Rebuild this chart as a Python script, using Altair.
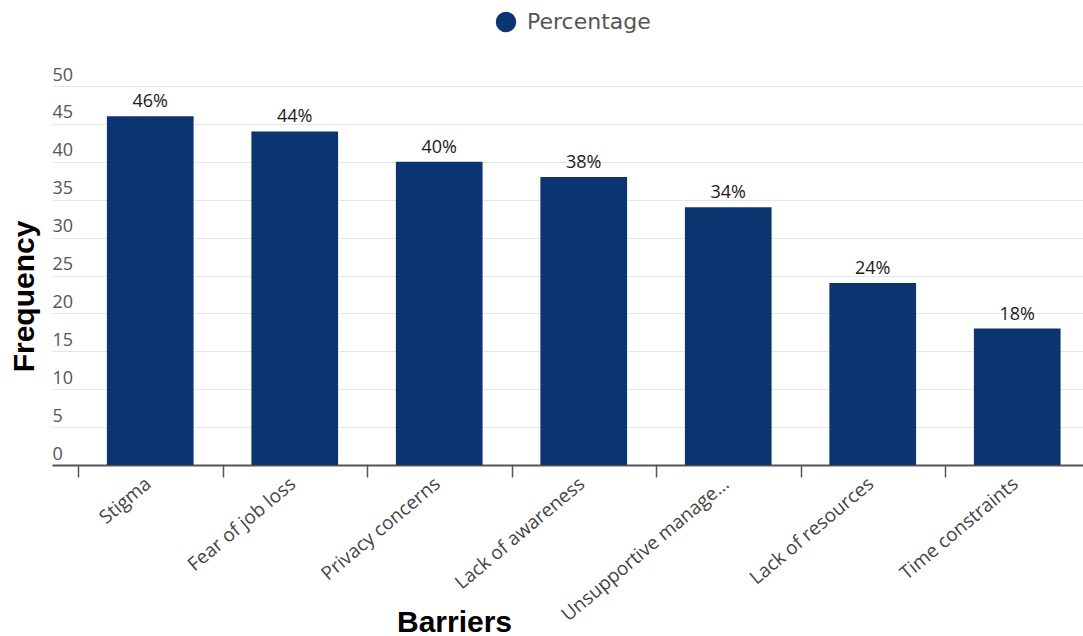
import altair as alt
import pandas as pd

# Barriers to seeking support, share of respondents (%)
barriers = [
    "Stigma",
    "Fear of job loss",
    "Privacy concerns",
    "Lack of awareness",
    "Unsupportive management",
    "Lack of resources",
    "Time constraints",
]
percentages = [46, 44, 40, 38, 34, 24, 18]
series_name = "Percentage"
y_ticks = list(range(0, 55, 5))

df = pd.DataFrame({
    "barrier": barriers,
    "value": percentages,
    "series": [series_name] * len(barriers),
})
df["label"] = df["value"].astype(str) + "%"

BAR_COLOR = "#0b3570"
TICK_FONT = "Open Sans"

x_enc = alt.X(
    "barrier:N",
    sort=barriers,
    scale=alt.Scale(paddingInner=0.4, paddingOuter=0.2675, align=0.71),
    axis=alt.Axis(
        title="Barriers",
        titleFont="Liberation Sans",
        titleFontSize=30,
        titleFontWeight="bold",
        titleColor="#000000",
        titleX=402,
        titleY=166,
        titleAlign="center",
        titleBaseline="alphabetic",
        labelAngle=320,
        labelAlign="right",
        labelBaseline="top",
        labelFont=TICK_FONT,
        labelFontSize=19,
        labelColor="#444444",
        labelPadding=-3,
        labelOffset=64,
        labelLimit=300,
        labelExpr="length(datum.label) > 20 ? substring(datum.label, 0, 19) + '...' : datum.label",
        tickOffset=-72,
        tickSize=12,
        tickColor="#555555",
        tickWidth=1.5,
        domainColor="#555555",
        domainWidth=2,
        grid=False,
    ),
)

y_enc = alt.Y(
    "value:Q",
    scale=alt.Scale(domain=[0, 50], nice=False),
    axis=alt.Axis(
        title="Frequency",
        titleFont="Liberation Sans",
        titleFontSize=30,
        titleFontWeight="bold",
        titleColor="#000000",
        titleAngle=270,
        titleX=-19,
        titleY=210,
        titleAlign="center",
        titleBaseline="alphabetic",
        values=y_ticks,
        tickCount=len(y_ticks) + 5,
        labelOverlap=False,
        labelFont=TICK_FONT,
        labelFontSize=18,
        labelColor="#555555",
        labelAlign="left",
        labelBaseline="bottom",
        labelPadding=0,
        labelOffset=-2,
        ticks=False,
        tickSize=0,
        domain=False,
        grid=True,
        gridColor="#e6e6e6",
        gridWidth=1,
    ),
)

base = alt.Chart(df).encode(x=x_enc, y=y_enc)

bars = base.mark_bar().encode(
    color=alt.Color(
        "series:N",
        scale=alt.Scale(domain=[series_name], range=[BAR_COLOR]),
        legend=alt.Legend(
            title=None,
            orient="none",
            legendX=443,
            legendY=-75,
            symbolType="circle",
            symbolSize=420,
            symbolStrokeWidth=0,
            labelFont="DejaVu Sans",
            labelFontSize=22,
            labelColor="#555555",
            labelOffset=10,
        ),
    ),
)

labels = base.mark_text(
    baseline="bottom",
    dy=-5,
    font=TICK_FONT,
    fontSize=18,
    color="#1a1a1a",
).encode(text="label:N")

chart = (
    alt.layer(bars, labels)
    .properties(
        width=1031,
        height=379,
        autosize=alt.AutoSizeParams(type="none"),
        padding={"left": 52, "top": 86, "right": 0, "bottom": 171},
        background="#ffffff",
    )
    .configure_view(stroke=None)
)

chart.save("out.html", embed_options={"renderer": "svg", "actions": False})
